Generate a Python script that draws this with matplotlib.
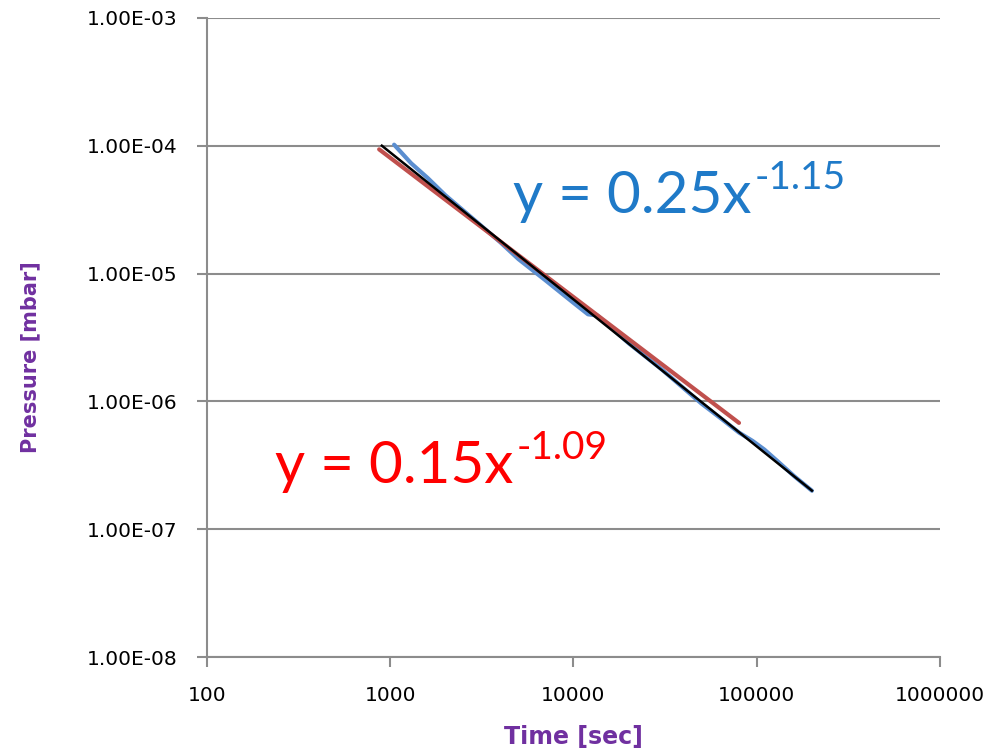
import numpy as np
import matplotlib
matplotlib.use("Agg")
import matplotlib.pyplot as plt
from matplotlib.ticker import FixedLocator, FixedFormatter, NullLocator

# measured pump-down curve
time_s = [1050, 1300, 1600, 2000, 3000, 4000, 5000, 7000, 10000, 12000, 13500,
          20000, 30000, 50000, 65000, 80000, 95000, 110000, 130000, 160000, 200000]
pressure_mbar = [1.02e-4, 7.3e-5, 5.6e-5, 4.1e-5, 2.5e-5, 1.75e-5, 1.3e-5, 8.9e-6,
                 5.9e-6, 4.8e-6, 4.7e-6, 2.85e-6, 1.8e-6, 9.6e-7, 7.2e-7, 5.7e-7,
                 4.9e-7, 4.2e-7, 3.4e-7, 2.6e-7, 2.0e-7]

# power-law fits  p = a * t^b
blue_a, blue_b = 0.25, -1.15
blue_range = [900, 200000]
red_a, red_b = 0.15, -1.09
red_range = [870, 80000]

x_ticks = [100, 1000, 10000, 100000, 1000000]
x_labels = ["100", "1000", "10000", "100000", "1000000"]
y_ticks = [1e-8, 1e-7, 1e-6, 1e-5, 1e-4, 1e-3]
y_labels = ["1.00E-08", "1.00E-07", "1.00E-06", "1.00E-05", "1.00E-04", "1.00E-03"]

grey = "#8c8c8c"
purple = "#7030A0"

fig = plt.figure(figsize=(9.96, 7.55), dpi=100)
ax = fig.add_axes([0.2078, 0.1298, 0.736, 0.8464])

ax.plot(time_s, pressure_mbar, color="#5B8ED0", lw=3.0, solid_capstyle="round", zorder=3)

tr = np.geomspace(red_range[0], red_range[1], 50)
ax.plot(tr, red_a * tr ** red_b, color="#C0504D", lw=3.0, solid_capstyle="round", zorder=4)

tb = np.geomspace(blue_range[0], blue_range[1], 50)
ax.plot(tb, blue_a * tb ** blue_b, color="black", lw=1.8, zorder=5)

ax.set_xscale("log")
ax.set_yscale("log")
ax.set_xlim(100, 1e6)
ax.set_ylim(1e-8, 1e-3)

ax.xaxis.set_major_locator(FixedLocator(x_ticks))
ax.xaxis.set_major_formatter(FixedFormatter(x_labels))
ax.yaxis.set_major_locator(FixedLocator(y_ticks))
ax.yaxis.set_major_formatter(FixedFormatter(y_labels))
ax.xaxis.set_minor_locator(NullLocator())
ax.yaxis.set_minor_locator(NullLocator())

ax.grid(axis="y", color=grey, lw=1.5)
ax.set_axisbelow(True)
for s in ["top", "right"]:
    ax.spines[s].set_visible(False)
for s in ["left", "bottom"]:
    ax.spines[s].set_color(grey)
    ax.spines[s].set_linewidth(1.5)
ax.tick_params(axis="both", colors=grey, length=7, width=1.5, labelcolor="black",
               labelsize=14.5)
ax.tick_params(axis="x", pad=14)
ax.tick_params(axis="y", pad=14)

ax.set_xlabel("Time [sec]", fontsize=17, fontweight="bold", color=purple)
ax.set_ylabel("Pressure [mbar]", fontsize=15, fontweight="bold", color=purple)
ax.xaxis.set_label_coords(0.5, -0.106)
ax.yaxis.set_label_coords(-0.228, 0.469)


def fit_label(x, y, base, power, color):
    # equation text with a raised exponent placed right after it
    t = ax.text(x, y, base, transform=ax.transAxes, fontsize=42, family="Lato",
                color=color, ha="left", va="baseline")
    fig.canvas.draw()
    bb = t.get_window_extent()
    xs = ax.transAxes.inverted().transform((bb.x1 + 3, 0))[0]
    ax.text(xs, y + 24 / 639, power, transform=ax.transAxes, fontsize=28,
            family="Lato", color=color, ha="left", va="baseline")


fit_label(0.4175, 0.695, "y = %.2fx" % blue_a, "%.2f" % blue_b, "#1F7AC8")
fit_label(0.0925, 0.272, "y = %.2fx" % red_a, "%.2f" % red_b, "#FF0000")

fig.savefig("out.png", dpi=100)
